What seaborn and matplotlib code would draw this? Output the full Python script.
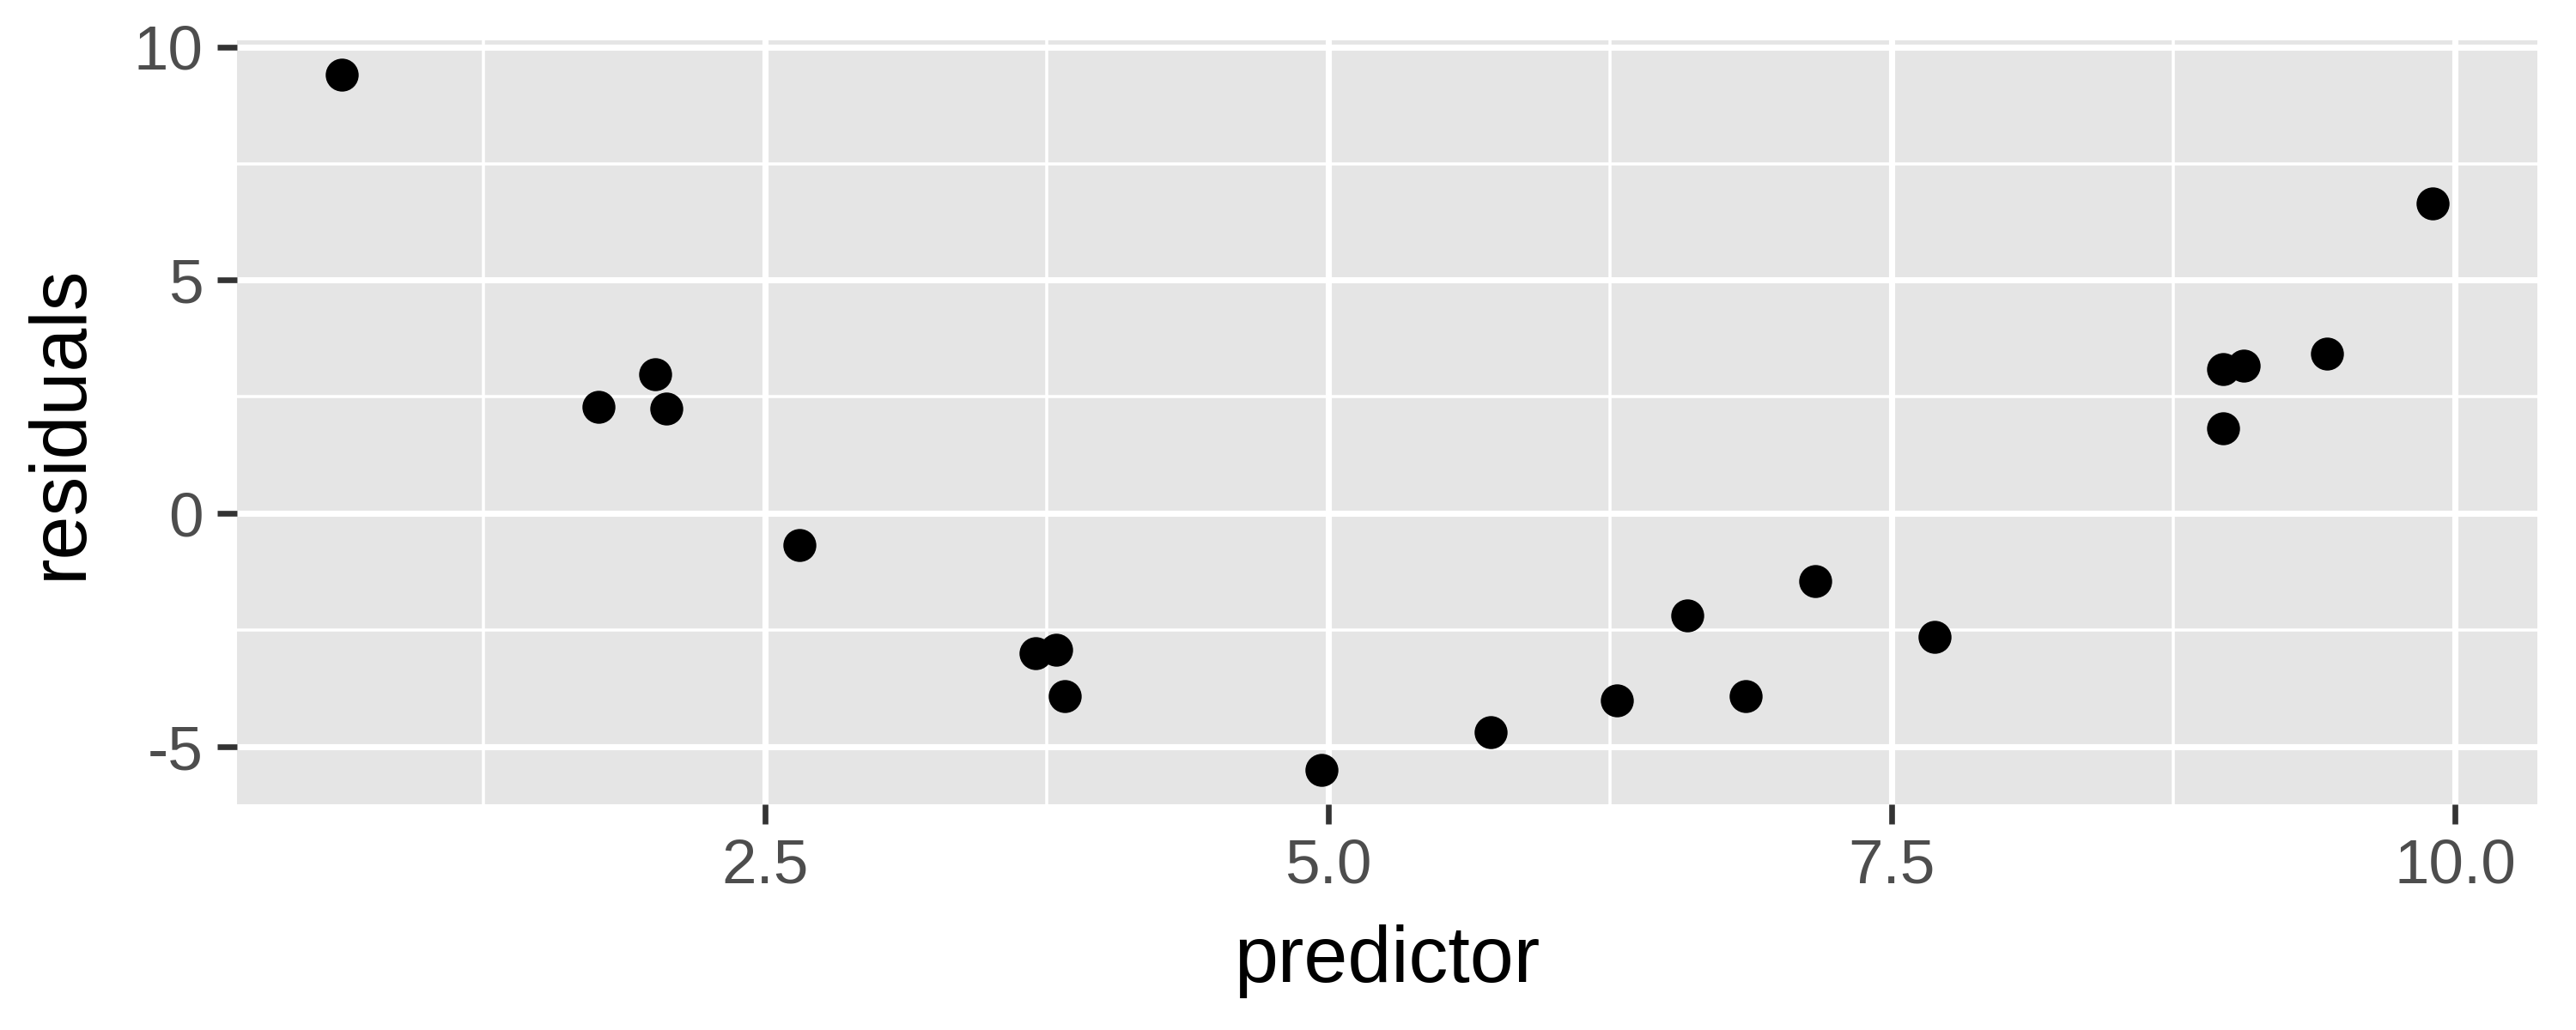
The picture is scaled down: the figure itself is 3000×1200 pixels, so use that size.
import numpy as np
import pandas as pd
import seaborn as sns
import matplotlib.pyplot as plt
from matplotlib.ticker import MultipleLocator

# values
predictor = [0.62, 1.76, 2.01, 2.06, 2.65, 3.70, 3.79, 3.83, 4.97, 5.72,
             6.28, 6.59, 6.85, 7.16, 7.69, 8.97, 8.97, 9.06, 9.43, 9.90]
residuals = [9.40, 2.29, 2.99, 2.25, -0.67, -2.99, -2.92, -3.91, -5.49, -4.68,
             -4.01, -2.18, -3.91, -1.44, -2.64, 1.83, 3.10, 3.17, 3.42, 6.65]

df = pd.DataFrame({"predictor": predictor, "residuals": residuals})

sns.set_theme(style="darkgrid", rc={
    "axes.facecolor": "#E5E5E5",
    "grid.color": "white",
})
plt.rcParams['font.family'] = ['Liberation Sans', 'DejaVu Sans']

fig, ax = plt.subplots(figsize=(10, 4), dpi=300)
fig.subplots_adjust(left=0.092, right=0.985, top=0.961, bottom=0.219)

sns.scatterplot(data=df, x="predictor", y="residuals", ax=ax,
                color="black", s=85, linewidth=0, zorder=3)

# ggplot-style 5% expansion
xr = max(predictor) - min(predictor)
yr = max(residuals) - min(residuals)
ax.set_xlim(min(predictor) - 0.05 * xr, max(predictor) + 0.05 * xr)
ax.set_ylim(min(residuals) - 0.05 * yr, max(residuals) + 0.05 * yr)

ax.xaxis.set_major_locator(MultipleLocator(2.5))
ax.xaxis.set_minor_locator(MultipleLocator(1.25))
ax.yaxis.set_major_locator(MultipleLocator(5))
ax.yaxis.set_minor_locator(MultipleLocator(2.5))
ax.xaxis.set_major_formatter(plt.FuncFormatter(lambda v, p: f"{v:.1f}"))
ax.yaxis.set_major_formatter(plt.FuncFormatter(lambda v, p: f"{v:.0f}"))

ax.grid(which="major", color="white", linewidth=1.7)
ax.grid(which="minor", color="white", linewidth=0.85)
ax.set_axisbelow(True)

for s in ax.spines.values():
    s.set_visible(False)

ax.tick_params(which="major", length=5.5, width=1.6, color="#333333",
               labelsize=17.5, labelcolor="#4D4D4D", pad=4)
ax.tick_params(which="minor", length=0)
ax.tick_params(axis="both", which="both", bottom=True, left=True)

ax.set_xlabel("predictor", fontsize=22, color="black", labelpad=8)
ax.set_ylabel("residuals", fontsize=22, color="black", labelpad=10)

fig.savefig("out.png", dpi=300)
